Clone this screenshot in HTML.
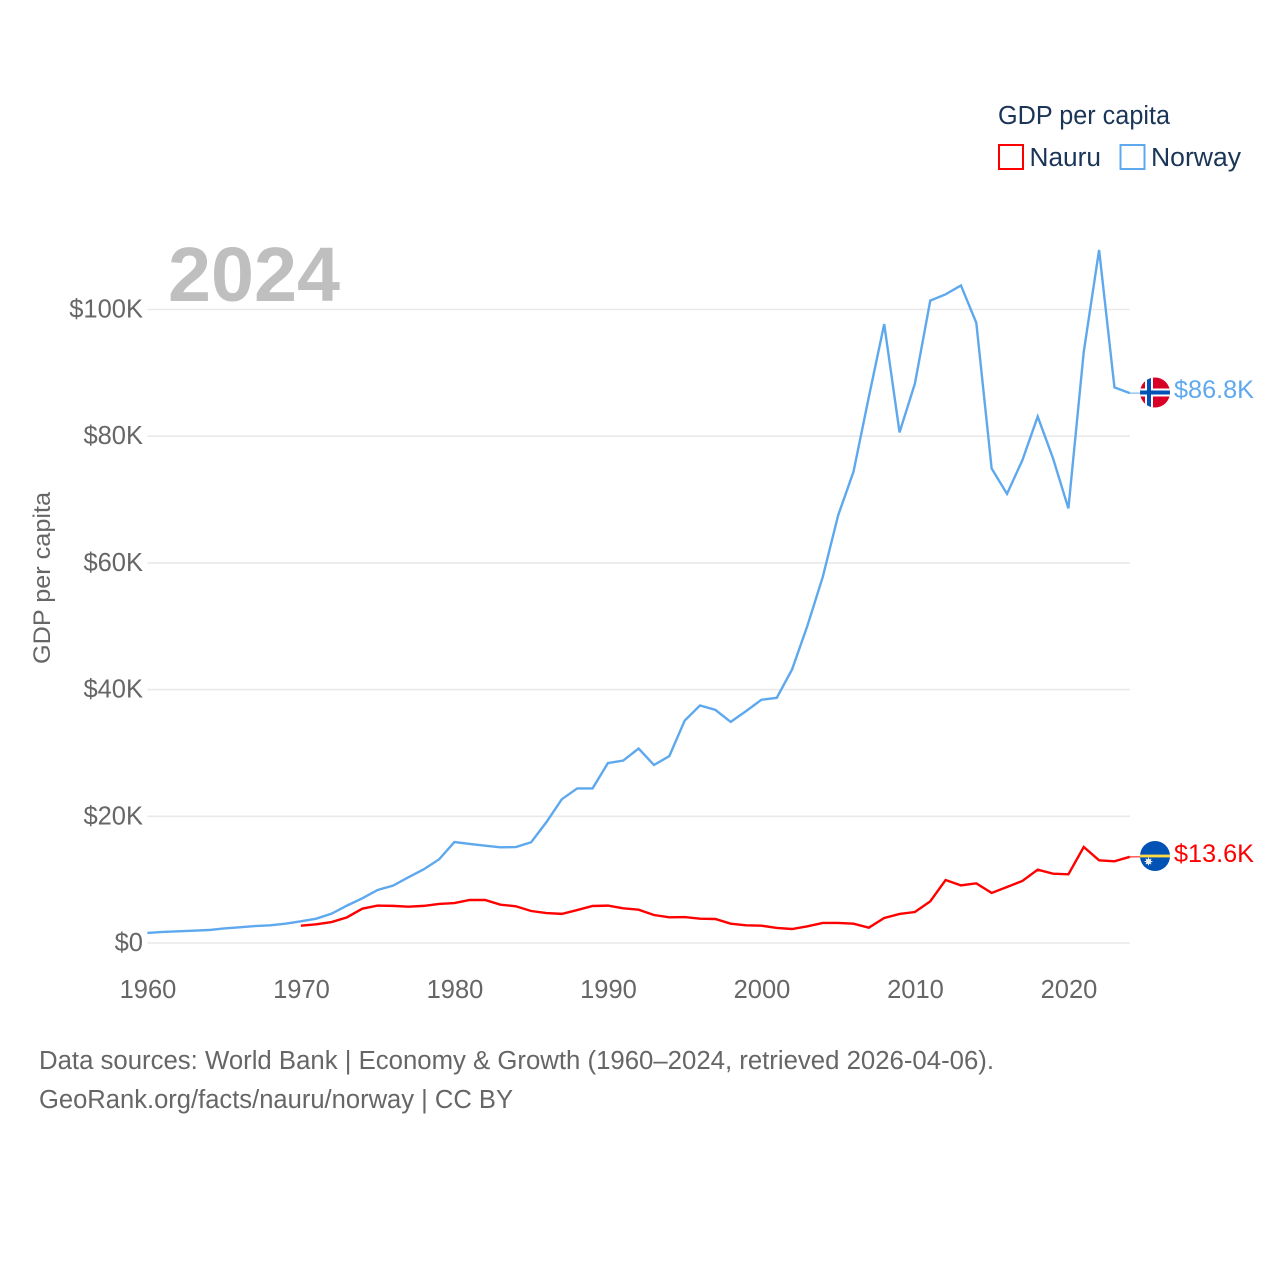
<!DOCTYPE html>
<html lang="en">
<head>
<meta charset="utf-8">
<title>GDP per capita: Nauru and Norway</title>
<style>
html,body{margin:0;padding:0;background:#fff;}
svg{display:block;font-family:"Liberation Sans",Arial,sans-serif;}
</style>
</head>
<body>
<svg id="chart" xmlns="http://www.w3.org/2000/svg" width="1280" height="1280" viewBox="0 0 1280 1280">
  <rect width="1280" height="1280" fill="#ffffff"/>
  <g id="grid"></g>
  <g id="yticks"></g>
  <g id="xticks"></g>
  <text x="168" y="301" font-size="77" font-weight="700" fill="#bfbfbf" textLength="172" lengthAdjust="spacingAndGlyphs">2024</text>
  <text transform="translate(50,664) rotate(-90)" font-size="24" fill="#666666" textLength="172" lengthAdjust="spacingAndGlyphs">GDP per capita</text>
  <g id="series"></g>

  <defs>
    <clipPath id="no-clip"><circle cx="1155" cy="392.5" r="15"/></clipPath>
    <clipPath id="nr-clip"><circle cx="1155" cy="856" r="15"/></clipPath>
  </defs>
  <g id="flag-norway" clip-path="url(#no-clip)">
    <rect x="1140" y="377" width="30" height="31" fill="#d80027"/>
    <rect x="1145" y="377" width="8" height="31" fill="#ffffff"/>
    <rect x="1140" y="388.500" width="30" height="8" fill="#ffffff"/>
    <rect x="1147" y="377" width="4" height="31" fill="#0052b4"/>
    <rect x="1140" y="390.500" width="30" height="4" fill="#0052b4"/>
  </g>
  <g id="flag-nauru" clip-path="url(#nr-clip)">
    <rect x="1140" y="841" width="30" height="30" fill="#0052b4"/>
    <rect x="1140" y="854.6" width="30" height="2.8" fill="#ffda44"/>
    <circle cx="1148.5" cy="861.5" r="2.6" fill="#f0f0f0"/>
    <path d="M1148.5 857.6V865.4M1144.6 861.5H1152.4M1145.8 858.8L1151.2 864.2M1151.2 858.8L1145.8 864.2" stroke="#f0f0f0" stroke-width="1"/>
  </g>

  <text x="1174" y="398" font-size="25" fill="#5ea8ee" textLength="80" lengthAdjust="spacingAndGlyphs">$86.8K</text>
  <text x="1174" y="862" font-size="25" fill="#ff0000" textLength="80" lengthAdjust="spacingAndGlyphs">$13.6K</text>

  <g>
    <text x="998" y="124" font-size="25.5" fill="#1a3557" textLength="172" lengthAdjust="spacingAndGlyphs">GDP per capita</text>
    <g>
      <rect x="999" y="145" width="24" height="24" fill="#ffffff" stroke="#ff0000" stroke-width="2"/>
      <text x="1029.500" y="166" font-size="25.5" fill="#1a3557" textLength="71.5" lengthAdjust="spacingAndGlyphs">Nauru</text>
    </g>
    <g>
      <rect x="1120.500" y="145" width="24" height="24" fill="#ffffff" stroke="#5ea8ee" stroke-width="2"/>
      <text x="1151" y="166" font-size="25.5" fill="#1a3557" textLength="90" lengthAdjust="spacingAndGlyphs">Norway</text>
    </g>
  </g>

  <g>
    <text x="39" y="1069" font-size="25.5" fill="#666666" textLength="955" lengthAdjust="spacingAndGlyphs">Data sources: World Bank | Economy &amp; Growth (1960–2024, retrieved 2026-04-06).</text>
    <text x="39" y="1108" font-size="25.5" fill="#666666" textLength="474" lengthAdjust="spacingAndGlyphs">GeoRank.org/facts/nauru/norway | CC BY</text>
  </g>
</svg>
<script>
const yearStart = 1960;
const yearEnd = 2024;
const xTickYears = [1960, 1970, 1980, 1990, 2000, 2010, 2020];
const yTickValues = [0, 20, 40, 60, 80, 100];
const yTickLabels = ['$0', '$20K', '$40K', '$60K', '$80K', '$100K'];
const norwayStartYear = 1960;
const norwayValues = [
  1.58, 1.74, 1.84, 1.95, 2.05, 2.3, 2.47, 2.68, 2.79, 3.05,
  3.42, 3.84, 4.63, 5.9, 7.05, 8.37, 9.05, 10.37, 11.63, 13.2,
  15.94, 15.63, 15.36, 15.1, 15.15, 15.9, 19.1, 22.7, 24.4, 24.4,
  28.4, 28.8, 30.7, 28.1, 29.5, 35.1, 37.5, 36.8, 34.9, 36.6,
  38.4, 38.7, 43.2, 50.1, 57.8, 67.5, 74.4, 86.2, 97.7, 80.6,
  88.3, 101.4, 102.4, 103.8, 97.9, 74.9, 70.9, 76.2, 83.1, 76.5,
  68.6, 93.3, 109.4, 87.7, 86.8
];
const nauruStartYear = 1970;
const nauruValues = [
  2.74, 2.95, 3.31, 4.05, 5.42, 5.9, 5.86, 5.74, 5.86, 6.16,
  6.31, 6.79, 6.79, 6.05, 5.8, 5.05, 4.73, 4.6, 5.2, 5.84,
  5.9, 5.47, 5.26, 4.42, 4.05, 4.1, 3.84, 3.79, 3.05, 2.79,
  2.74, 2.37, 2.21, 2.63, 3.16, 3.16, 3.05, 2.42, 3.95, 4.58,
  4.89, 6.58, 9.94, 9.1, 9.42, 7.9, 8.84, 9.79, 11.57, 10.94,
  10.84, 15.15, 13.05, 12.9, 13.6
];

const SVG_NS = 'http://www.w3.org/2000/svg';
const xScale = function (year) {
  return 147.4 + (year - yearStart) * (1129.8 - 147.4) / (yearEnd - yearStart);
};
const yScale = function (value) {
  return 943 - value * 6.335;
};
const buildPoints = function (startYear, values) {
  return values.map(function (v, i) {
    return xScale(startYear + i).toFixed(2) + ',' + yScale(v).toFixed(2);
  }).join(' ');
};

const gridGroup = document.getElementById('grid');
const yTickGroup = document.getElementById('yticks');
const xTickGroup = document.getElementById('xticks');
const seriesGroup = document.getElementById('series');

yTickValues.forEach(function (v, i) {
  const line = document.createElementNS(SVG_NS, 'line');
  
  
  line.setAttribute('x1', xScale(yearStart));
  line.setAttribute('x2', xScale(yearEnd));
  line.setAttribute('y1', yScale(v));
  line.setAttribute('y2', yScale(v));
  line.setAttribute('stroke', '#e9e9e9');
  line.setAttribute('stroke-width', '1.6');
  gridGroup.appendChild(line);

  const label = document.createElementNS(SVG_NS, 'text');
  
  
  label.setAttribute('x', 143);
  label.setAttribute('y', yScale(v) + 8);
  label.setAttribute('text-anchor', 'end');
  label.setAttribute('font-size', '25.5');
  label.setAttribute('fill', '#666666');
  label.textContent = yTickLabels[i];
  yTickGroup.appendChild(label);
});

xTickYears.forEach(function (year) {
  const label = document.createElementNS(SVG_NS, 'text');
  
  
  label.setAttribute('x', xScale(year) + 0.6);
  label.setAttribute('y', 998);
  label.setAttribute('text-anchor', 'middle');
  label.setAttribute('font-size', '25.5');
  label.setAttribute('fill', '#666666');
  label.textContent = String(year);
  xTickGroup.appendChild(label);
});

const connectorNorway = document.createElementNS(SVG_NS, 'line');


connectorNorway.setAttribute('x1', xScale(yearEnd));
connectorNorway.setAttribute('x2', 1141);
connectorNorway.setAttribute('y1', yScale(norwayValues[norwayValues.length - 1]));
connectorNorway.setAttribute('y2', yScale(norwayValues[norwayValues.length - 1]));
connectorNorway.setAttribute('stroke', '#5ea8ee');
connectorNorway.setAttribute('stroke-width', '1.2');
connectorNorway.setAttribute('opacity', '0.8');
seriesGroup.appendChild(connectorNorway);

const connectorNauru = document.createElementNS(SVG_NS, 'line');


connectorNauru.setAttribute('x1', xScale(yearEnd));
connectorNauru.setAttribute('x2', 1141);
connectorNauru.setAttribute('y1', yScale(nauruValues[nauruValues.length - 1]));
connectorNauru.setAttribute('y2', yScale(nauruValues[nauruValues.length - 1]));
connectorNauru.setAttribute('stroke', '#ff0000');
connectorNauru.setAttribute('stroke-width', '1.2');
connectorNauru.setAttribute('opacity', '0.8');
seriesGroup.appendChild(connectorNauru);

const norwayLine = document.createElementNS(SVG_NS, 'polyline');


norwayLine.setAttribute('points', buildPoints(norwayStartYear, norwayValues));
norwayLine.setAttribute('fill', 'none');
norwayLine.setAttribute('stroke', '#5ea8ee');
norwayLine.setAttribute('stroke-width', '2.4');
norwayLine.setAttribute('stroke-linejoin', 'miter');
seriesGroup.appendChild(norwayLine);

const nauruLine = document.createElementNS(SVG_NS, 'polyline');


nauruLine.setAttribute('points', buildPoints(nauruStartYear, nauruValues));
nauruLine.setAttribute('fill', 'none');
nauruLine.setAttribute('stroke', '#ff0000');
nauruLine.setAttribute('stroke-width', '2.4');
nauruLine.setAttribute('stroke-linejoin', 'miter');
seriesGroup.appendChild(nauruLine);
</script>
</body>
</html>
